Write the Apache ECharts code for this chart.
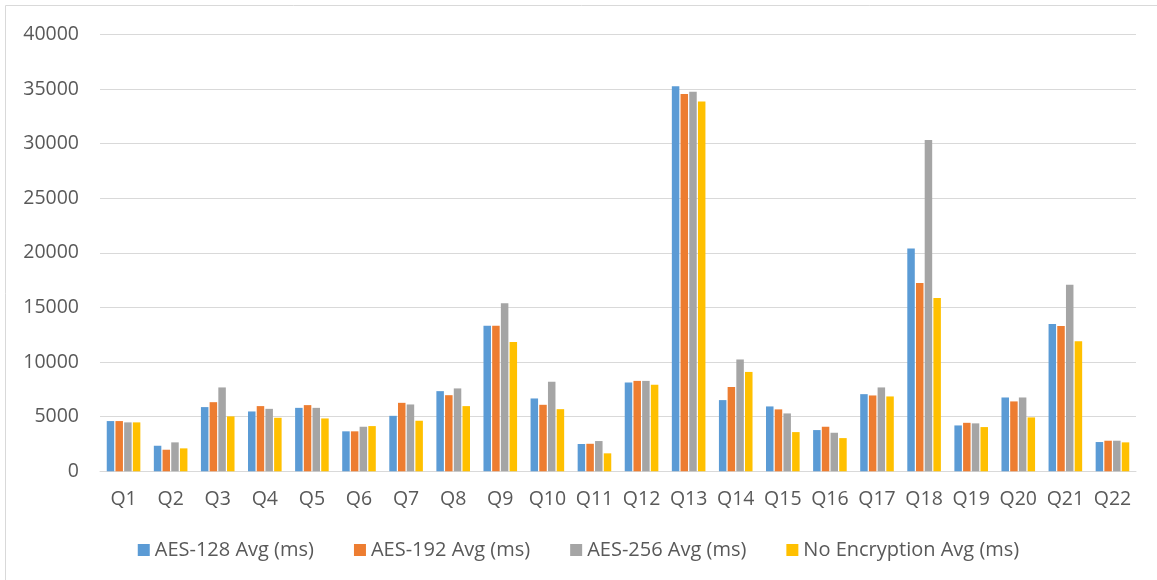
<!DOCTYPE html>
<html>
<head>
<meta charset="utf-8">
<script src="https://cdn.jsdelivr.net/npm/echarts@6/dist/echarts.min.js"></script>
<style>
html,body{margin:0;padding:0;background:#fff;}
#chart{width:1157px;height:580px;}
</style>
</head>
<body>
<div id="chart"></div>
<script>
const categories = ['Q1','Q2','Q3','Q4','Q5','Q6','Q7','Q8','Q9','Q10','Q11','Q12','Q13','Q14','Q15','Q16','Q17','Q18','Q19','Q20','Q21','Q22'];
const aes128 = [4600, 2340, 5880, 5480, 5810, 3660, 5080, 7340, 13340, 6670, 2500, 8130, 35250, 6520, 5940, 3775, 7065, 20400, 4200, 6760, 13490, 2680];
const aes192 = [4600, 1975, 6330, 5970, 6060, 3660, 6270, 6970, 13340, 6090, 2520, 8280, 34540, 7730, 5670, 4080, 6945, 17250, 4440, 6400, 13310, 2800];
const aes256 = [4480, 2650, 7680, 5720, 5810, 4080, 6120, 7590, 15380, 8190, 2770, 8280, 34760, 10240, 5300, 3530, 7680, 30350, 4390, 6760, 17090, 2800];
const noEnc  = [4480, 2100, 5030, 4900, 4840, 4140, 4630, 5970, 11850, 5690, 1645, 7920, 33870, 9100, 3590, 3040, 6855, 15870, 4050, 4935, 11910, 2650];
const seriesNames = ['AES-128 Avg (ms)', 'AES-192 Avg (ms)', 'AES-256 Avg (ms)', 'No Encryption Avg (ms)'];
const colors = ['#5b9bd5', '#ed7d31', '#a5a5a5', '#ffc000'];
const yTicks = { min: 0, max: 40000, interval: 5000 };

const chart = echarts.init(document.getElementById('chart'), null, { renderer: 'canvas' });
const font = 'Open Sans';
const dataSets = [aes128, aes192, aes256, noEnc];
chart.setOption({
  animation: false,
  color: colors,
  textStyle: { fontFamily: font },
  graphic: [{
    type: 'rect',
    shape: { x: 5.5, y: 5.5, width: 1170, height: 600 },
    style: { fill: 'none', stroke: '#d9d9d9', lineWidth: 1 },
    silent: true
  }],
  grid: { left: 100, right: 21, top: 34.5, bottom: 108.7, containLabel: false },
  legend: {
    bottom: 15,
    left: 'center',
    itemWidth: 12,
    itemHeight: 12,
    itemGap: 40,
    icon: 'rect',
    textStyle: { fontSize: 20, color: '#595959', fontFamily: font },
    data: seriesNames
  },
  xAxis: {
    type: 'category',
    data: categories,
    axisLine: { lineStyle: { color: '#d9d9d9', width: 1 } },
    axisTick: { show: false },
    axisLabel: { fontSize: 19.5, color: '#595959', margin: 18, fontFamily: font, interval: 0 }
  },
  yAxis: {
    type: 'value',
    min: yTicks.min,
    max: yTicks.max,
    interval: yTicks.interval,
    axisLine: { show: false },
    axisTick: { show: false },
    splitLine: { lineStyle: { color: '#d9d9d9', width: 1 } },
    axisLabel: { fontSize: 19.5, color: '#595959', margin: 21, fontFamily: font, formatter: v => String(v) }
  },
  series: seriesNames.map((n, i) => ({
    name: n,
    type: 'bar',
    data: dataSets[i],
    barWidth: 7.5,
    barGap: '16%',
    itemStyle: { color: colors[i] }
  }))
});
</script>
</body>
</html>
